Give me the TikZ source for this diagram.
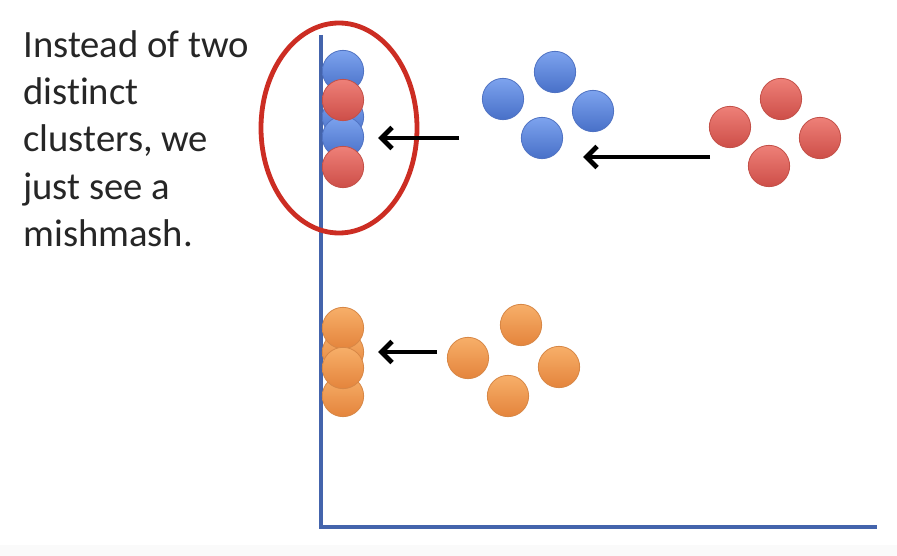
\documentclass[tikz,border=0pt]{standalone}
\usepackage{fontspec}
\setmainfont{Carlito}[Ligatures={NoCommon}]
\usetikzlibrary{arrows.meta}
\definecolor{axisblue}{RGB}{68,100,172}
\definecolor{ringred}{RGB}{204,45,35}
\definecolor{btop}{RGB}{125,163,238}
\definecolor{bbot}{RGB}{72,112,200}
\definecolor{bedge}{RGB}{80,115,195}
\definecolor{rtop}{RGB}{238,128,120}
\definecolor{rbot}{RGB}{205,78,72}
\definecolor{redge}{RGB}{195,80,72}
\definecolor{otop}{RGB}{247,175,105}
\definecolor{obot}{RGB}{228,132,60}
\definecolor{oedge}{RGB}{215,135,70}
\tikzset{
  dot/.style={circle, minimum size=31pt, inner sep=0pt, line width=0.6pt},
  bdot/.style={dot, draw=bedge, top color=btop, bottom color=bbot},
  rdot/.style={dot, draw=redge, top color=rtop, bottom color=rbot},
  odot/.style={dot, draw=oedge, top color=otop, bottom color=obot},
  axisline/.style={draw=axisblue, line width=2.8pt},
  proj/.style={draw=black, line width=3.6pt, -{Straight Barb[length=8pt,width=16pt,line width=3.6pt]}},
  caption/.style={anchor=north west, align=left, font=\fontsize{29}{35.5}\selectfont, text=black!85, inner sep=0pt}
}
\begin{document}
\begin{tikzpicture}[x=0.75pt,y=-0.75pt]
\useasboundingbox (0,0) rectangle (897,556);
\fill[white] (0,0) rectangle (897,556);
\fill[black!2] (0,545) rectangle (897,556);
% axes
\coordinate (top) at (321,35);
\coordinate (origin) at (321,527);
\coordinate (right) at (877,527);
\draw[axisline, line join=miter] (top) -- (origin) -- (right);
% caption
\node[caption] (txt) at (23,30) {Instead of two\\distinct\\clusters, we\\just see a\\mishmash.};
% stacked projections (blue/red)
\node[bdot] (pb1) at (343,71) {};
\node[bdot] (pb2) at (343,117) {};
\node[bdot] (pb3) at (343,137) {};
\node[rdot] (pr1) at (343,100) {};
\node[rdot] (pr2) at (343,167) {};
% ellipse
\draw[ringred, line width=3.6pt] (339,128) ellipse [x radius=78, y radius=105];
% blue cluster
\node[bdot] (b1) at (503,99) {};
\node[bdot] (b2) at (555,72) {};
\node[bdot] (b3) at (593,111) {};
\node[bdot] (b4) at (542,138) {};
% red cluster
\node[rdot] (r1) at (730,127) {};
\node[rdot] (r2) at (781,99) {};
\node[rdot] (r3) at (820,138) {};
\node[rdot] (r4) at (769,166) {};
% orange stacked
\node[odot] (po2) at (343,352) {};
\node[odot] (po4) at (343,396) {};
\node[odot] (po1) at (343,328) {};
\node[odot] (po3) at (343,368) {};
% orange cluster
\node[odot] (o1) at (468,358) {};
\node[odot] (o2) at (521,325) {};
\node[odot] (o3) at (559,367) {};
\node[odot] (o4) at (508,396) {};
% arrows
\coordinate (a1s) at (459,138);
\coordinate (a1e) at (378,138);
\coordinate (a2s) at (710,157);
\coordinate (a2e) at (583,157);
\coordinate (a3s) at (437,352);
\coordinate (a3e) at (378,352);
\draw[proj] (a1s) -- (a1e);
\draw[proj] (a2s) -- (a2e);
\draw[proj] (a3s) -- (a3e);
\end{tikzpicture}
\end{document}
